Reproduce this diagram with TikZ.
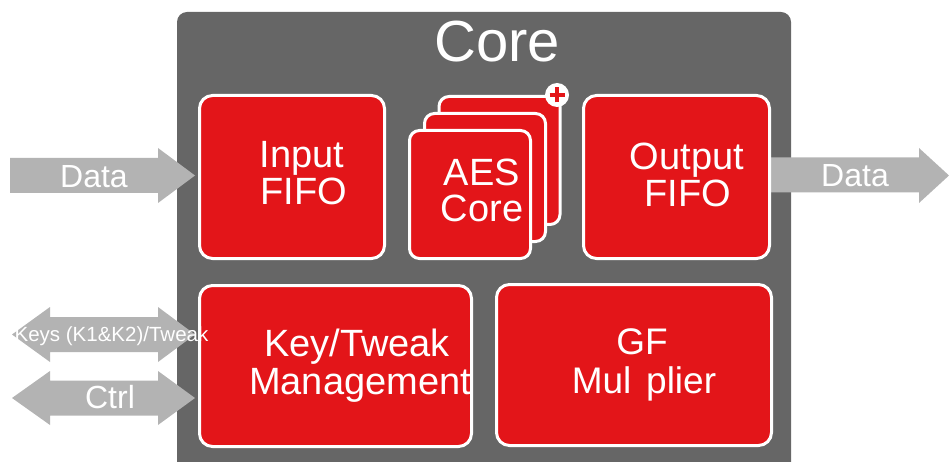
\documentclass[tikz,border=0pt]{standalone}
\usepackage{fontspec}
\setmainfont{Liberation Sans}
\definecolor{coregray}{HTML}{666666}
\definecolor{arrgray}{HTML}{B3B3B3}
\definecolor{blockred}{HTML}{E31519}
\begin{document}
\begin{tikzpicture}[x=1pt,y=-1pt,
  redbox/.style={draw=white, line width=3pt, fill=blockred, rounded corners=13pt, inner sep=0pt},
  card/.style={draw=white, line width=3pt, fill=blockred, rounded corners=10pt, inner sep=0pt, minimum width=121pt, minimum height=128pt},
  lbl/.style={text=white, anchor=base, inner sep=0pt, font=\fontsize{38}{40}\selectfont},
  arrlbl/.style={text=white, anchor=base, inner sep=0pt, font=\fontsize{32}{34}\selectfont},
  blockarrow/.style={fill=arrgray}]
\useasboundingbox (0,0) rectangle (949,462);
% core background
\fill[coregray, rounded corners=10pt] (177,12) rectangle (791,480);
\node[text=white, anchor=base, inner sep=0pt, font=\fontsize{58}{60}\selectfont] (coretitle) at (497,62) {Core};
% arrows
\fill[blockarrow] (10,158) -- (158,158) -- (158,148) -- (195,175.5) -- (158,203) -- (158,193) -- (10,193) -- cycle;
\fill[blockarrow] (760,157.5) -- (919,157.5) -- (919,148) -- (949,175.5) -- (919,203) -- (919,192.5) -- (760,192.5) -- cycle;
\fill[blockarrow] (12,334.5) -- (50,307) -- (50,317) -- (158,317) -- (158,307) -- (195,334.5) -- (158,362) -- (158,352) -- (50,352) -- (50,362) -- cycle;
\fill[blockarrow] (12,398) -- (50,371) -- (50,380.5) -- (158,380.5) -- (158,371) -- (195,398) -- (158,425) -- (158,415.5) -- (50,415.5) -- (50,425) -- cycle;
% blocks
\node[redbox, minimum width=185pt, minimum height=163pt] (inp) at (292,177) {};
\node[redbox, minimum width=186pt, minimum height=163pt] (outp) at (676.5,177) {};
\node[redbox, minimum width=272pt, minimum height=161pt] (key) at (335.5,366) {};
\node[redbox, minimum width=275pt, minimum height=161pt] (gf) at (634,365) {};
\node[card] (aes3) at (499.5,160.5) {};
\node[card] (aes2) at (485,177.5) {};
\node[card] (aes1) at (470,194.5) {};
\node[circle, fill=white, minimum size=24pt, inner sep=0pt] (plus) at (557,95) {};
\draw[blockred, line width=3.2pt] ([xshift=-7.5pt]plus.center) -- ([xshift=7.5pt]plus.center);
\draw[blockred, line width=3.2pt] ([yshift=-7.5pt]plus.center) -- ([yshift=7.5pt]plus.center);
% labels
\node[lbl] (inp1) at (302,168) {Input};
\node[lbl] (inp2) at (304,205) {FIFO};
\node[lbl] (aesl1) at (482,186) {AES};
\node[lbl] (aesl2) at (482,222) {Core};
\node[lbl] (outp1) at (687,170) {Output};
\node[lbl] (outp2) at (688,207) {FIFO};
\node[lbl] (key1) at (357,356) {Key/Tweak};
\node[lbl] (key2) at (360,394) {Management};
\node[lbl, font=\fontsize{37}{39}\selectfont] (gf1) at (642,354) {GF};
\node[lbl, font=\fontsize{37}{39}\selectfont] (gf2) at (644,393) {Mul\hspace{0.4em}plier};
\node[arrlbl] (din) at (94,187.5) {Data};
\node[arrlbl] (dout) at (855,186.5) {Data};
\node[arrlbl] (ctrl) at (110,408) {Ctrl};
\node[text=white, anchor=base, inner sep=0pt, font=\fontsize{20.5}{22}\selectfont] (keys) at (111.5,341) {Keys (K1\&K2)/Tweak};
\end{tikzpicture}
\end{document}
